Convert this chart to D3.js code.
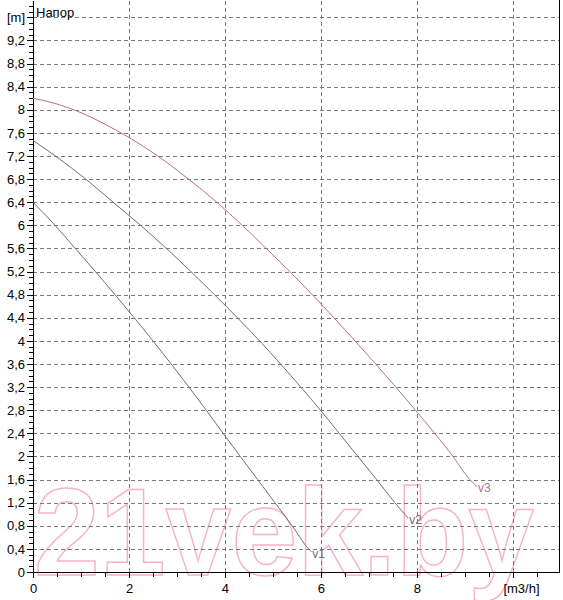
<!DOCTYPE html>
<html lang="ru">
  <head>
    <meta charset="utf-8">
    <title>Напор</title>
    <script src="https://cdn.jsdelivr.net/npm/d3@7"></script>
    <style>
    body { margin: 0; background: #fff; }
    .axis text { font-size: 13px; font-family: "Liberation Sans", Arial, sans-serif; fill: #000; }
    .axis path, .axis line { stroke: #000; shape-rendering: crispEdges; }
    .grid line { stroke: #7a7a7a; stroke-dasharray: 4,3; shape-rendering: crispEdges; }
    .curve-label { font-size: 12px; font-family: "Liberation Sans", Arial, sans-serif; }
    .title { font-size: 13px; font-family: "Liberation Sans", Arial, sans-serif; }
    .watermark { font-family: "Liberation Sans", Arial, sans-serif; font-weight: bold; font-size: 125px; fill: none; stroke: #f7b3c6; stroke-width: 1.5; }
    </style>
  </head>
  <body>
    <div id="chart"></div>
    <script>

    // pump curves: flow [m3/h] vs head [m]
    var v1Flow = [0, 0.46, 0.88, 1.3, 1.71, 2.11, 2.5, 2.88, 3.25, 3.61, 3.96, 4.32, 4.68, 5.04, 5.4, 5.74, 5.8];
    var v1Head = [6.4, 6.0, 5.6, 5.2, 4.8, 4.4, 4.0, 3.6, 3.2, 2.8, 2.4, 2.0, 1.6, 1.2, 0.8, 0.4, 0.35];

    var v2Flow = [0, 0.5, 1.1, 1.67, 2.24, 2.78, 3.29, 3.78, 4.26, 4.72, 5.16, 5.58, 5.99, 6.38, 6.77, 7.16, 7.54, 7.82];
    var v2Head = [7.47, 7.18, 6.8, 6.4, 6.0, 5.6, 5.2, 4.8, 4.4, 4.0, 3.6, 3.2, 2.8, 2.4, 2.0, 1.6, 1.2, 0.93];

    var v3Flow = [0, 0.5, 1, 1.5, 2, 2.6, 3.24, 3.83, 4.36, 4.86, 5.35, 5.82, 6.27, 6.71, 7.14, 7.56, 7.97, 8.37, 8.75, 9.1, 9.25];
    var v3Head = [8.2, 8.1, 7.95, 7.75, 7.52, 7.2, 6.8, 6.4, 6.0, 5.6, 5.2, 4.8, 4.4, 4.0, 3.6, 3.2, 2.8, 2.4, 2.0, 1.6, 1.48];

    var curveNames = ["v1", "v2", "v3"];
    var curveColors = ["#707070", "#707070", "#b77088"];

    var xMajor = [0, 2, 4, 6, 8, 10];
    var xLabels = ["0", "2", "4", "6", "8", "[m3/h]"];
    var yMajorCount = 25;   // 0 .. 9,6 by 0,4
    var yTopLabel = "[m]";
    var titleText = "Напор";
    var watermarkText = "21vek.by";

    var W = 563, H = 600,
        margin = {top: 0, left: 33},
        width = 526,
        height = 572;

    var svg = d3.select("#chart")
                .append("svg")
                .attr("width", W)
                .attr("height", H);

    var xScale = d3.scaleLinear().domain([0, 10.96]).range([margin.left, margin.left + width]);
    var yScale = d3.scaleLinear().domain([0, 9.9]).range([margin.top + height, margin.top]);

    var yMajor = d3.range(yMajorCount).map(function(i){ return i * 0.4; });
    var yMinor = d3.range(99).map(function(i){ return i * 0.1; });
    var xMinor = d3.range(22).map(function(i){ return i * 0.5; });

    function commaFmt(d){
      var v = Math.round(d * 10) / 10;
      return String(v).replace(".", ",");
    }

    // watermark
    svg.append("text")
       .classed("watermark", true)
       .attr("x", 34)
       .attr("y", 575)
       .attr("textLength", 500)
       .attr("lengthAdjust", "spacingAndGlyphs")
       .text(watermarkText);

    // grid
    var grid = svg.append("g").classed("grid", true);

    grid.selectAll("line.h")
        .data(yMajor.slice(1))
        .enter()
        .append("line")
        .attr("x1", xScale.range()[0])
        .attr("x2", xScale.range()[1])
        .attr("y1", function(d){ return Math.round(yScale(d)) + 0.5; })
        .attr("y2", function(d){ return Math.round(yScale(d)) + 0.5; });

    grid.selectAll("line.v")
        .data(xMajor.slice(1))
        .enter()
        .append("line")
        .attr("y1", yScale.range()[0])
        .attr("y2", yScale.range()[1])
        .attr("x1", function(d){ return Math.round(xScale(d)) + 0.5; })
        .attr("x2", function(d){ return Math.round(xScale(d)) + 0.5; });

    // right border
    svg.append("line")
       .attr("x1", margin.left + width + 0.5)
       .attr("x2", margin.left + width + 0.5)
       .attr("y1", 0)
       .attr("y2", margin.top + height)
       .style("stroke", "#000")
       .style("shape-rendering", "crispEdges");

    // axes
    var yAxisMinor = d3.axisLeft(yScale).tickValues(yMinor).tickSize(4).tickSizeOuter(0).tickFormat("");
    var yAxis = d3.axisLeft(yScale).tickValues(yMajor).tickSize(6).tickSizeOuter(0)
                  .tickFormat(function(d, i){ return i === yMajorCount - 1 ? yTopLabel : commaFmt(d); });

    svg.append("g")
       .attr("class", "axis")
       .attr("transform", "translate(" + margin.left + ",0)")
       .call(yAxisMinor);

    svg.append("g")
       .attr("class", "y axis")
       .attr("transform", "translate(" + margin.left + ",0)")
       .call(yAxis)
       .selectAll("text")
       .attr("x", -8);

    var xAxisMinor = d3.axisBottom(xScale).tickValues(xMinor).tickSize(5).tickSizeOuter(0).tickFormat("");
    var xAxis = d3.axisBottom(xScale).tickValues(xMajor).tickSize(6).tickSizeOuter(0)
                  .tickFormat(function(d, i){ return xLabels[i]; });

    svg.append("g")
       .attr("class", "axis")
       .attr("transform", "translate(0," + (margin.top + height) + ")")
       .call(xAxisMinor);

    var xg = svg.append("g")
       .attr("class", "x axis")
       .attr("transform", "translate(0," + (margin.top + height) + ")")
       .call(xAxis);

    xg.selectAll("text").attr("y", 12);
    xg.selectAll(".tick:last-of-type text")
      .attr("text-anchor", "start")
      .attr("x", -10);

    svg.append("text")
       .classed("title", true)
       .attr("x", 36)
       .attr("y", 17)
       .text(titleText);

    // curves
    var series = [
      {name: curveNames[0], flow: v1Flow, head: v1Head, color: curveColors[0]},
      {name: curveNames[1], flow: v2Flow, head: v2Head, color: curveColors[1]},
      {name: curveNames[2], flow: v3Flow, head: v3Head, color: curveColors[2]}
    ];

    var line = d3.line()
                 .curve(d3.curveMonotoneX)
                 .x(function(d){ return xScale(d[0]); })
                 .y(function(d){ return yScale(d[1]); });

    series.forEach(function(s){
      var pts = s.flow.map(function(f, i){ return [f, s.head[i]]; });
      svg.append("path")
         .datum(pts)
         .attr("d", line)
         .style("fill", "none")
         .style("stroke", s.color)
         .style("stroke-width", 1);

      var last = pts[pts.length - 1];
      svg.append("text")
         .classed("curve-label", true)
         .attr("x", xScale(last[0]) + 1)
         .attr("y", yScale(last[1]) + 6)
         .style("fill", s.color)
         .text(s.name);
    });

    </script>
  </body>
</html>
